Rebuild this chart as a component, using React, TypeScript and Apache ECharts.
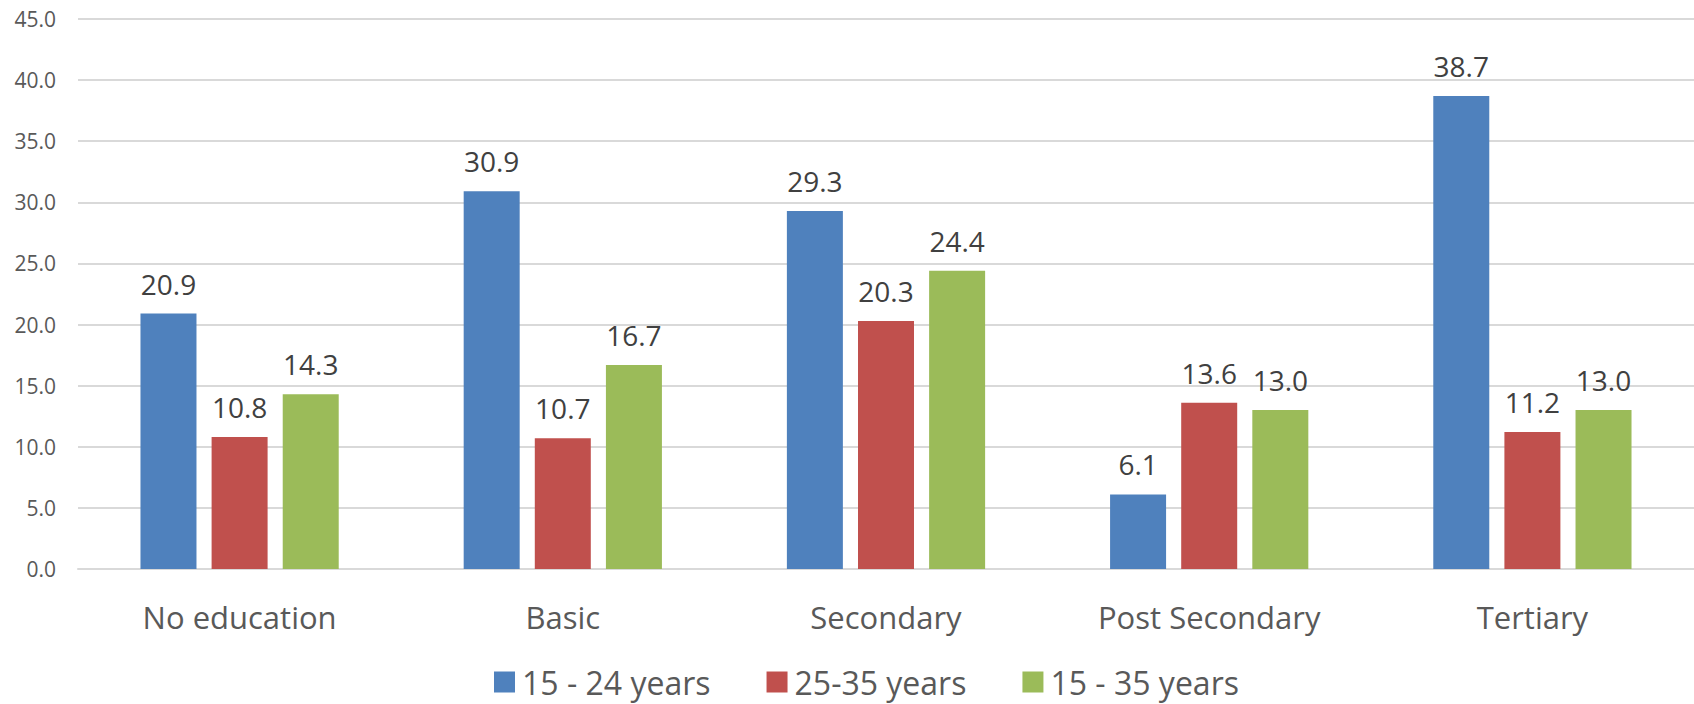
import React, { useEffect, useRef } from "react";
import * as echarts from "echarts";

const categories = ["No education", "Basic", "Secondary", "Post Secondary", "Tertiary"];
const seriesNames = ["15 - 24 years", "25-35 years", "15 - 35 years"];
const youth1524 = [20.9, 30.9, 29.3, 6.1, 38.7];
const youth2535 = [10.8, 10.7, 20.3, 13.6, 11.2];
const youth1535 = [14.3, 16.7, 24.4, 13.0, 13.0];
const colors = ["#4F81BD", "#C0504D", "#9BBB59"];

const FONT = "'Open Sans', sans-serif";

export default function App() {
  const ref = useRef<HTMLDivElement>(null);
  useEffect(() => {
    if (!ref.current) return;
    const chart = echarts.init(ref.current, null, { renderer: "svg" });
    const data = [youth1524, youth2535, youth1535];
    chart.setOption({
      animation: false,
      textStyle: { fontFamily: FONT },
      grid: { left: 78, right: 0, top: 19, bottom: 135, containLabel: false },
      legend: {
        data: seriesNames,
        bottom: 6,
        left: 494,
        padding: 0,
        itemWidth: 21,
        itemHeight: 21,
        itemGap: 56,
        icon: "rect",
        textStyle: { fontSize: 32, color: "#595959", fontFamily: FONT, padding: [0, 0, 0, 2] },
      },
      xAxis: {
        type: "category",
        data: categories,
        axisLine: { lineStyle: { color: "#d9d9d9", width: 2 } },
        axisTick: { show: false },
        axisLabel: { fontSize: 31, color: "#595959", margin: 32, fontFamily: FONT },
      },
      yAxis: {
        type: "value",
        min: 0,
        max: 45,
        interval: 5,
        axisLine: { show: false },
        axisTick: { show: false },
        splitLine: { lineStyle: { color: "#d9d9d9", width: 2 } },
        axisLabel: {
          fontSize: 21,
          color: "#595959",
          margin: 22,
          fontFamily: FONT,
          formatter: (v: number) => v.toFixed(1),
        },
      },
      series: seriesNames.map((name, i) => ({
        name,
        type: "bar",
        data: data[i],
        barWidth: 56,
        barGap: "27%",
        itemStyle: { color: colors[i] },
        label: {
          show: true,
          position: "top",
          distance: 16,
          fontSize: 28,
          color: "#404040",
          fontFamily: FONT,
          formatter: (p: any) => Number(p.value).toFixed(1),
        },
      })),
    });
    return () => chart.dispose();
  }, []);
  return (
    <div
      ref={ref}
      style={{ position: "fixed", left: 0, top: 0, width: 1694, height: 704, background: "#fff" }}
    />
  );
}
